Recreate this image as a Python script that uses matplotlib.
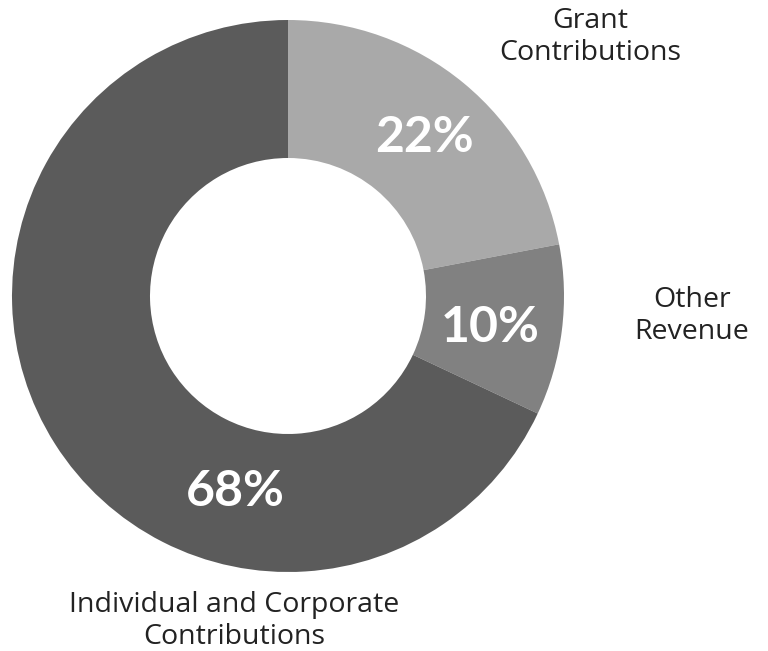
import matplotlib.pyplot as plt

labels = ['Grant\nContributions', 'Other\nRevenue', 'Individual and Corporate\nContributions']
values = [22, 10, 68]
pct_text = ['22%', '10%', '68%']
colors = ['#a9a9a9', '#818181', '#5b5b5b']

# positions in pixel space (x, y from top)
pct_pos = [(424, 138), (490, 328), (235, 492)]
label_pos = [(590, 37), (692, 316), (234, 621)]

W, H = 768, 651
fig = plt.figure(figsize=(W / 100, H / 100), dpi=100)
ax = fig.add_axes([0, 0, 1, 1])
ax.set_xlim(0, W)
ax.set_ylim(0, H)
ax.set_aspect('equal')
ax.axis('off')

cx, cy, r_out = 288, H - 296, 276
ax.pie(values, colors=colors, startangle=90, counterclock=False,
       radius=r_out, center=(cx, cy),
       wedgeprops=dict(width=r_out - 138, linewidth=0))
ax.set_xlim(0, W)
ax.set_ylim(0, H)

for t, (x, y) in zip(pct_text, pct_pos):
    ax.text(x, H - y, t, color='white', fontsize=36, fontweight='bold',
            family='Lato', ha='center', va='center')

for t, (x, y) in zip(labels, label_pos):
    ax.text(x, H - y, t, color='#222222', fontsize=20.5, family='Open Sans',
            ha='center', va='center', linespacing=1.15)

fig.savefig('out.png', dpi=100)
